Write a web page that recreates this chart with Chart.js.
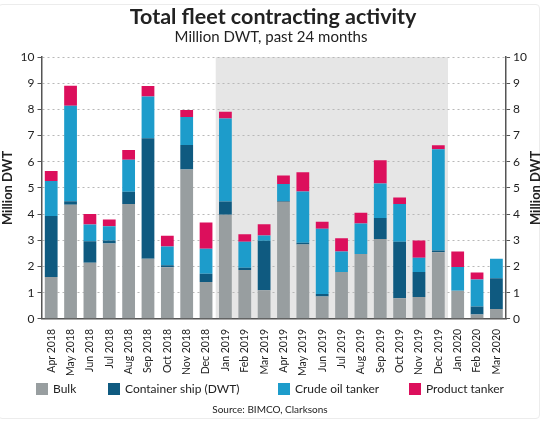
<!DOCTYPE html>
<html>
<head>
<meta charset="utf-8">
<script src="https://cdn.jsdelivr.net/npm/chart.js@4.4.1/dist/chart.umd.min.js"></script>
<style>
    html, body { margin: 0; padding: 0; background: #fff; }
    #wrap { position: relative; width: 550px; height: 425px; }
    #card { position: absolute; left: -2px; top: 4px; width: 540px; height: 413px; border: 1px solid #ececec; border-radius: 4px; }
    canvas { position: absolute; left: 0; top: 0; }
</style>
</head>
<body>
<div id="wrap">
    <div id="card"></div>
    <canvas id="myChart" width="550" height="425"></canvas>
</div>
<script>
const months = [
    "Apr 2018", "May 2018", "Jun 2018", "Jul 2018", "Aug 2018", "Sep 2018",
    "Oct 2018", "Nov 2018", "Dec 2018", "Jan 2019", "Feb 2019", "Mar 2019",
    "Apr 2019", "May 2019", "Jun 2019", "Jul 2019", "Aug 2019", "Sep 2019",
    "Oct 2019", "Nov 2019", "Dec 2019", "Jan 2020", "Feb 2020", "Mar 2020"
];

const bulk = [1.60, 4.36, 2.14, 2.88, 4.39, 2.30, 1.97, 5.70, 1.41, 3.98, 1.87, 1.09,
              4.47, 2.84, 0.85, 1.79, 2.48, 3.05, 0.79, 0.83, 2.54, 1.07, 0.17, 0.38];
const container = [2.33, 0.13, 0.82, 0.11, 0.46, 4.60, 0.08, 0.94, 0.31, 0.50, 0.08, 1.89,
                   0.03, 0.07, 0.10, 0.00, 0.00, 0.80, 2.15, 0.96, 0.07, 0.00, 0.30, 1.17];
const crude = [1.33, 3.65, 0.64, 0.55, 1.23, 1.59, 0.71, 1.07, 0.96, 3.17, 0.99, 0.20,
               0.65, 1.95, 2.49, 0.78, 1.16, 1.32, 1.45, 0.54, 3.87, 0.91, 1.03, 0.75];
const product = [0.39, 0.76, 0.40, 0.25, 0.37, 0.40, 0.41, 0.27, 1.00, 0.26, 0.29, 0.43,
                 0.32, 0.74, 0.27, 0.51, 0.41, 0.89, 0.24, 0.66, 0.15, 0.59, 0.27, 0.00];

const yTicks = [0, 1, 2, 3, 4, 5, 6, 7, 8, 9, 10];
const shadeFrom = "Jan 2019";
const shadeTo = "Dec 2019";

const fontName = "Lato, 'Open Sans', sans-serif";
const textColor = "#222";
const axisColor = "#555";

// where each legend box starts (px from the left)
const legendX = [36, 108, 278, 409];

const shadePlugin = {
    id: "shade",
    beforeDraw(chart) {
        const ctx = chart.ctx;
        const x = chart.scales.x;
        const area = chart.chartArea;
        const half = (x.getPixelForValue(1) - x.getPixelForValue(0)) / 2;
        const left = x.getPixelForValue(months.indexOf(shadeFrom)) - half;
        const right = x.getPixelForValue(months.indexOf(shadeTo)) + half;
        ctx.save();
        ctx.fillStyle = "#e6e6e6";
        ctx.fillRect(left, area.top, right - left, area.bottom - area.top);
        ctx.restore();
    }
};

function drawText(ctx, text, x, y, font, align) {
    ctx.font = font;
    ctx.fillStyle = textColor;
    ctx.textAlign = align || "center";
    ctx.textBaseline = "middle";
    ctx.fillText(text, x, y);
}

const extrasPlugin = {
    id: "extras",
    afterDraw(chart) {
        const ctx = chart.ctx;
        const area = chart.chartArea;
        ctx.save();
        drawText(ctx, "Total fleet contracting activity", 273, 17, "bold 21.5px " + fontName);
        drawText(ctx, "Million DWT, past 24 months", 271, 37, "15px " + fontName);
        drawText(ctx, "Source: BIMCO, Clarksons", 270, 410, "10px " + fontName);

        // legend
        chart.data.datasets.forEach((ds, i) => {
            ctx.fillStyle = ds.backgroundColor;
            ctx.fillRect(legendX[i], 383, 12, 12);
            drawText(ctx, ds.label, legendX[i] + 17, 389.5, "12px " + fontName, "left");
        });

        // right axis title, reads bottom to top like the left one
        ctx.translate(536, (area.top + area.bottom) / 2);
        ctx.rotate(-Math.PI / 2);
        drawText(ctx, "Million DWT", 0, 0, "bold 13px " + fontName);
        ctx.restore();
    }
};

function makeSet(label, values, color) {
    return {
        label: label,
        data: values,
        backgroundColor: color,
        borderWidth: 0,
        barPercentage: 0.66,
        categoryPercentage: 1.0,
        yAxisID: "y",
    };
}

const ctx = document.getElementById("myChart");

const chart = new Chart(ctx, {
    type: "bar",
    data: {
        labels: months,
        datasets: [
            makeSet("Bulk", bulk, "#989ea0"),
            makeSet("Container ship (DWT)", container, "#0f5a80"),
            makeSet("Crude oil tanker", crude, "#1d9ccb"),
            makeSet("Product tanker", product, "#dc0f5c"),
        ]
    },
    options: {
        responsive: false,
        animation: false,
        layout: { padding: { left: 0, right: 20, top: 57, bottom: 47 } },
        plugins: {
            legend: { display: false },
            tooltip: { enabled: false },
        },
        scales: {
            x: {
                stacked: true,
                grid: { display: false },
                border: { display: true, color: axisColor, width: 1.5 },
                ticks: {
                    font: { family: fontName, size: 10.5 },
                    color: textColor,
                    maxRotation: 90,
                    minRotation: 90,
                    autoSkip: false,
                    padding: 2,
                },
            },
            y: {
                stacked: true,
                min: 0,
                max: 10,
                afterBuildTicks(axis) { axis.ticks = yTicks.map(v => ({ value: v })); },
                grid: { color: "#b8b8b8", lineWidth: 1, tickLength: 4, tickColor: axisColor },
                border: { display: true, color: axisColor, width: 1.5, dash: [2, 3] },
                ticks: { font: { family: fontName, size: 12 }, color: textColor, padding: 3 },
                title: {
                    display: true,
                    text: "Million DWT",
                    font: { family: fontName, size: 13, weight: "bold" },
                    color: textColor,
                    padding: { top: 0, bottom: 2 },
                },
            },
            y2: {
                position: "right",
                min: 0,
                max: 10,
                display: true,
                afterBuildTicks(axis) { axis.ticks = yTicks.map(v => ({ value: v })); },
                grid: { drawOnChartArea: false, tickLength: 4, tickColor: axisColor },
                border: { display: true, color: axisColor, width: 1.5 },
                ticks: { font: { family: fontName, size: 12 }, color: textColor, padding: 3 },
            },
        },
    },
    plugins: [shadePlugin, extrasPlugin],
});
</script>
</body>
</html>
